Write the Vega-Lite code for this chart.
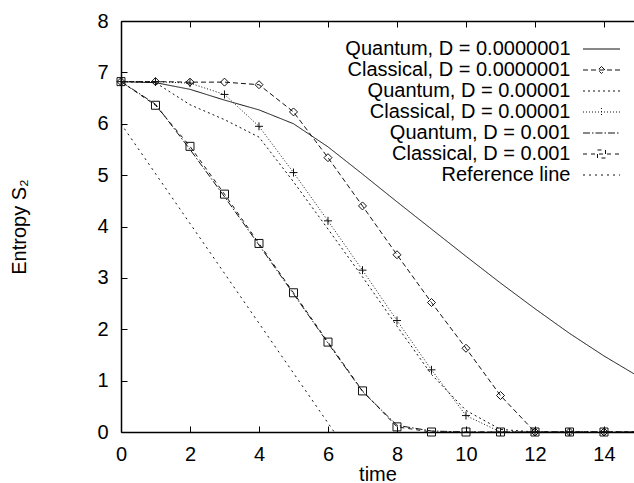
{
  "$schema": "https://vega.github.io/schema/vega-lite/v6.json",
  "width": 513,
  "height": 411,
  "autosize": {"type": "none"},
  "padding": {"left": 121, "top": 21, "right": 0, "bottom": 51},
  "background": "white",
  "config": {
    "view": {"stroke": null},
    "font": "Liberation Sans",
    "axis": {
      "grid": false,
      "domainColor": "black",
      "domainWidth": 1.5,
      "tickColor": "black",
      "tickWidth": 1,
      "tickSize": -6,
      "labelFont": "Liberation Sans",
      "labelFontSize": 20,
      "labelColor": "black",
      "labelFlush": false,
      "labelOverlap": false,
      "titleFont": "Liberation Sans",
      "titleFontSize": 20,
      "titleFontWeight": "normal",
      "titleColor": "black"
    }
  },
  "data": {
    "values": [
      {"series": "Quantum, D = 0.0000001", "time": 0, "S": 6.82},
      {"series": "Quantum, D = 0.0000001", "time": 1, "S": 6.80},
      {"series": "Quantum, D = 0.0000001", "time": 2, "S": 6.67},
      {"series": "Quantum, D = 0.0000001", "time": 3, "S": 6.46},
      {"series": "Quantum, D = 0.0000001", "time": 4, "S": 6.27},
      {"series": "Quantum, D = 0.0000001", "time": 5, "S": 6.00},
      {"series": "Quantum, D = 0.0000001", "time": 6, "S": 5.55},
      {"series": "Quantum, D = 0.0000001", "time": 7, "S": 5.02},
      {"series": "Quantum, D = 0.0000001", "time": 8, "S": 4.48},
      {"series": "Quantum, D = 0.0000001", "time": 9, "S": 3.95},
      {"series": "Quantum, D = 0.0000001", "time": 10, "S": 3.42},
      {"series": "Quantum, D = 0.0000001", "time": 11, "S": 2.90},
      {"series": "Quantum, D = 0.0000001", "time": 12, "S": 2.40},
      {"series": "Quantum, D = 0.0000001", "time": 13, "S": 1.92},
      {"series": "Quantum, D = 0.0000001", "time": 14, "S": 1.48},
      {"series": "Quantum, D = 0.0000001", "time": 15, "S": 1.08},

      {"series": "Classical, D = 0.0000001", "time": 0, "S": 6.82},
      {"series": "Classical, D = 0.0000001", "time": 1, "S": 6.82},
      {"series": "Classical, D = 0.0000001", "time": 2, "S": 6.81},
      {"series": "Classical, D = 0.0000001", "time": 3, "S": 6.81},
      {"series": "Classical, D = 0.0000001", "time": 4, "S": 6.76},
      {"series": "Classical, D = 0.0000001", "time": 5, "S": 6.23},
      {"series": "Classical, D = 0.0000001", "time": 6, "S": 5.34},
      {"series": "Classical, D = 0.0000001", "time": 7, "S": 4.40},
      {"series": "Classical, D = 0.0000001", "time": 8, "S": 3.45},
      {"series": "Classical, D = 0.0000001", "time": 9, "S": 2.52},
      {"series": "Classical, D = 0.0000001", "time": 10, "S": 1.63},
      {"series": "Classical, D = 0.0000001", "time": 11, "S": 0.71},
      {"series": "Classical, D = 0.0000001", "time": 12, "S": 0},
      {"series": "Classical, D = 0.0000001", "time": 13, "S": 0},
      {"series": "Classical, D = 0.0000001", "time": 14, "S": 0},
      {"series": "Classical, D = 0.0000001", "time": 15, "S": 0},

      {"series": "Quantum, D = 0.00001", "time": 0, "S": 6.82},
      {"series": "Quantum, D = 0.00001", "time": 1, "S": 6.80},
      {"series": "Quantum, D = 0.00001", "time": 2, "S": 6.37},
      {"series": "Quantum, D = 0.00001", "time": 3, "S": 6.08},
      {"series": "Quantum, D = 0.00001", "time": 4, "S": 5.74},
      {"series": "Quantum, D = 0.00001", "time": 5, "S": 4.87},
      {"series": "Quantum, D = 0.00001", "time": 6, "S": 3.95},
      {"series": "Quantum, D = 0.00001", "time": 7, "S": 3.02},
      {"series": "Quantum, D = 0.00001", "time": 8, "S": 2.06},
      {"series": "Quantum, D = 0.00001", "time": 9, "S": 1.12},
      {"series": "Quantum, D = 0.00001", "time": 10, "S": 0.42},
      {"series": "Quantum, D = 0.00001", "time": 11, "S": 0.05},
      {"series": "Quantum, D = 0.00001", "time": 12, "S": 0},
      {"series": "Quantum, D = 0.00001", "time": 13, "S": 0},
      {"series": "Quantum, D = 0.00001", "time": 14, "S": 0},
      {"series": "Quantum, D = 0.00001", "time": 15, "S": 0},

      {"series": "Classical, D = 0.00001", "time": 0, "S": 6.82},
      {"series": "Classical, D = 0.00001", "time": 1, "S": 6.82},
      {"series": "Classical, D = 0.00001", "time": 2, "S": 6.79},
      {"series": "Classical, D = 0.00001", "time": 3, "S": 6.57},
      {"series": "Classical, D = 0.00001", "time": 4, "S": 5.95},
      {"series": "Classical, D = 0.00001", "time": 5, "S": 5.05},
      {"series": "Classical, D = 0.00001", "time": 6, "S": 4.11},
      {"series": "Classical, D = 0.00001", "time": 7, "S": 3.15},
      {"series": "Classical, D = 0.00001", "time": 8, "S": 2.17},
      {"series": "Classical, D = 0.00001", "time": 9, "S": 1.21},
      {"series": "Classical, D = 0.00001", "time": 10, "S": 0.32},
      {"series": "Classical, D = 0.00001", "time": 11, "S": 0},
      {"series": "Classical, D = 0.00001", "time": 12, "S": 0},
      {"series": "Classical, D = 0.00001", "time": 13, "S": 0},
      {"series": "Classical, D = 0.00001", "time": 14, "S": 0},
      {"series": "Classical, D = 0.00001", "time": 15, "S": 0},

      {"series": "Quantum, D = 0.001", "time": 0, "S": 6.82},
      {"series": "Quantum, D = 0.001", "time": 1, "S": 6.38},
      {"series": "Quantum, D = 0.001", "time": 2, "S": 5.50},
      {"series": "Quantum, D = 0.001", "time": 3, "S": 4.58},
      {"series": "Quantum, D = 0.001", "time": 4, "S": 3.64},
      {"series": "Quantum, D = 0.001", "time": 5, "S": 2.69},
      {"series": "Quantum, D = 0.001", "time": 6, "S": 1.73},
      {"series": "Quantum, D = 0.001", "time": 7, "S": 0.79},
      {"series": "Quantum, D = 0.001", "time": 8, "S": 0.13},
      {"series": "Quantum, D = 0.001", "time": 9, "S": 0.02},
      {"series": "Quantum, D = 0.001", "time": 10, "S": 0},
      {"series": "Quantum, D = 0.001", "time": 11, "S": 0},
      {"series": "Quantum, D = 0.001", "time": 12, "S": 0},
      {"series": "Quantum, D = 0.001", "time": 13, "S": 0},
      {"series": "Quantum, D = 0.001", "time": 14, "S": 0},
      {"series": "Quantum, D = 0.001", "time": 15, "S": 0},

      {"series": "Classical, D = 0.001", "time": 0, "S": 6.82},
      {"series": "Classical, D = 0.001", "time": 1, "S": 6.36},
      {"series": "Classical, D = 0.001", "time": 2, "S": 5.56},
      {"series": "Classical, D = 0.001", "time": 3, "S": 4.63},
      {"series": "Classical, D = 0.001", "time": 4, "S": 3.67},
      {"series": "Classical, D = 0.001", "time": 5, "S": 2.71},
      {"series": "Classical, D = 0.001", "time": 6, "S": 1.75},
      {"series": "Classical, D = 0.001", "time": 7, "S": 0.80},
      {"series": "Classical, D = 0.001", "time": 8, "S": 0.10},
      {"series": "Classical, D = 0.001", "time": 9, "S": 0},
      {"series": "Classical, D = 0.001", "time": 10, "S": 0},
      {"series": "Classical, D = 0.001", "time": 11, "S": 0},
      {"series": "Classical, D = 0.001", "time": 12, "S": 0},
      {"series": "Classical, D = 0.001", "time": 13, "S": 0},
      {"series": "Classical, D = 0.001", "time": 14, "S": 0},
      {"series": "Classical, D = 0.001", "time": 15, "S": 0},

      {"series": "Reference line", "time": 0, "S": 6.0},
      {"series": "Reference line", "time": 6.18, "S": 0}
    ]
  },
  "layer": [
    {
      "mark": {"type": "line", "clip": true, "strokeWidth": 1, "color": "#111"},
      "encoding": {
        "x": {
          "field": "time", "type": "quantitative",
          "scale": {"domain": [0, 14.87], "nice": false, "zero": false},
          "axis": {"orient": "bottom", "values": [0, 2, 4, 6, 8, 10, 12, 14], "title": "time", "labelPadding": 18, "titlePadding": 0}
        },
        "y": {
          "field": "S", "type": "quantitative",
          "scale": {"domain": [0, 8], "nice": false},
          "axis": {"orient": "left", "values": [0, 1, 2, 3, 4, 5, 6, 7, 8], "title": "Entropy S₂", "labelPadding": 19, "titlePadding": 67}
        },
        "strokeDash": {
          "field": "series", "type": "nominal",
          "scale": {
            "domain": ["Quantum, D = 0.0000001", "Classical, D = 0.0000001", "Quantum, D = 0.00001", "Classical, D = 0.00001", "Quantum, D = 0.001", "Classical, D = 0.001", "Reference line"],
            "range": [[1, 0], [5, 3], [2, 3], [1, 2], [7, 2, 1.5, 2], [4, 4], [2, 4]]
          },
          "legend": {
            "orient": "none",
            "legendX": 470.5,
            "legendY": 18,
            "title": null,
            "labelFont": "Liberation Sans",
            "labelFontSize": 20,
            "labelColor": "black",
            "labelAlign": "right",
            "labelOffset": -41,
            "labelLimit": 400,
            "symbolSize": 100,
            "symbolStrokeColor": "#111",
            "symbolStrokeWidth": 1,
            "rowPadding": 1,
            "encode": {
              "symbols": {
                "update": {
                  "fill": {"value": "transparent"},
                  "shape": {"signal": "datum.value === 'Classical, D = 0.0000001' ? 'M-3.7,0H3.7M0,-0.7L0.7,0L0,0.7L-0.7,0Z' : datum.value === 'Classical, D = 0.00001' ? 'M-3.7,0H3.7M0,-0.8V0.8' : datum.value === 'Classical, D = 0.001' ? 'M-3.7,0H3.7M-0.8,-0.8H0.8V0.8H-0.8Z' : 'M-3.7,0H3.7'"}
                }
              }
            }
          }
        }
      }
    },
    {
      "transform": [
        {"filter": {"field": "series", "oneOf": ["Classical, D = 0.0000001", "Classical, D = 0.00001", "Classical, D = 0.001"]}},
        {"filter": "datum.time <= 14"}
      ],
      "mark": {"type": "point", "filled": false, "color": "#111", "strokeWidth": 1, "size": 64, "opacity": 1},
      "encoding": {
        "x": {
          "field": "time", "type": "quantitative",
          "axis": {"orient": "top", "values": [0, 2, 4, 6, 8, 10, 12, 14], "labels": false, "title": null}
        },
        "y": {
          "field": "S", "type": "quantitative",
          "axis": {"orient": "left", "values": [0, 1, 2, 3, 4, 5, 6, 7, 8], "title": "Entropy S₂", "labelPadding": 19, "titlePadding": 67}
        },
        "shape": {
          "field": "series", "type": "nominal",
          "scale": {
            "domain": ["Classical, D = 0.0000001", "Classical, D = 0.00001", "Classical, D = 0.001"],
            "range": ["diamond", "M-1,0H1M0,-1V1", "square"]
          },
          "legend": null
        }
      }
    }
  ]
}
